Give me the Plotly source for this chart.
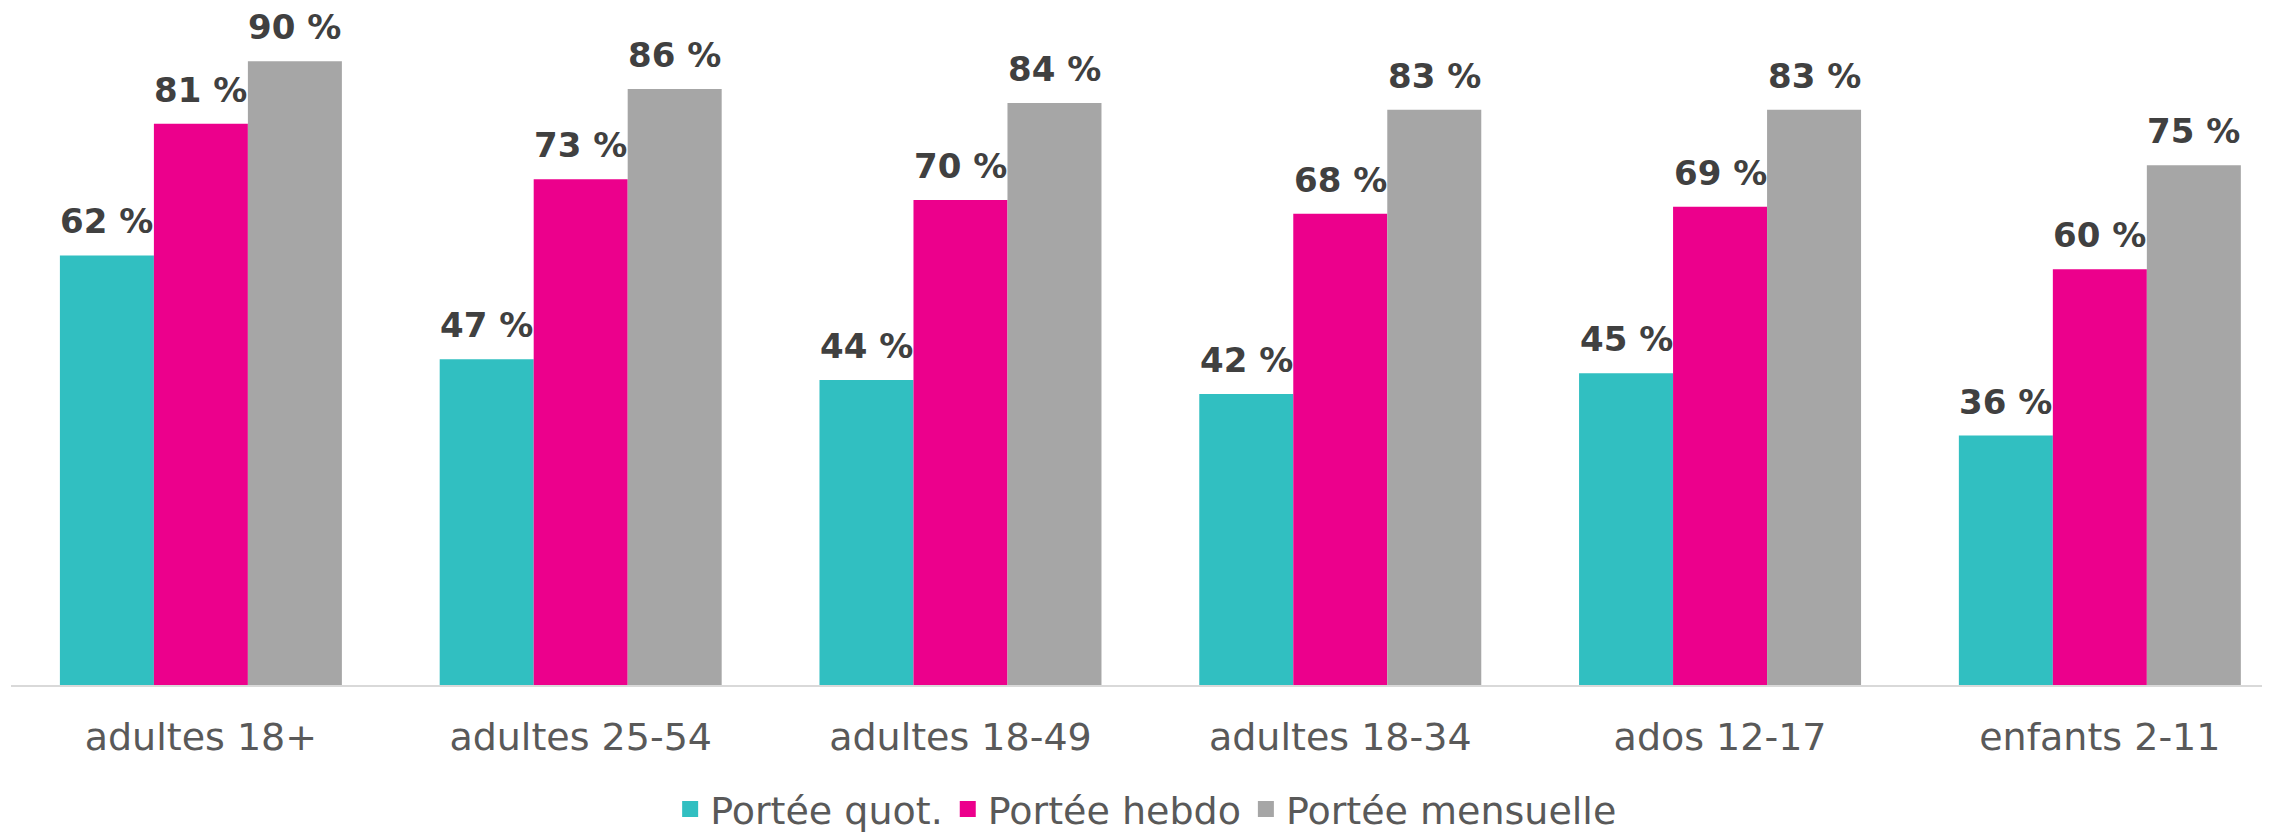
import plotly.graph_objects as go

categories = ["adultes 18+", "adultes 25-54", "adultes 18-49", "adultes 18-34", "ados 12-17", "enfants 2-11"]
series_names = ["Portée quot.", "Portée hebdo", "Portée mensuelle"]
quot = [62, 47, 44, 42, 45, 36]
hebdo = [81, 73, 70, 68, 69, 60]
mensuelle = [90, 86, 84, 83, 83, 75]
colors = ["#31BFC1", "#EC008C", "#A6A6A6"]

series = [quot, hebdo, mensuelle]

fig = go.Figure()
for name, vals, col in zip(series_names, series, colors):
    fig.add_trace(go.Bar(
        x=categories, y=vals, name=name, showlegend=False,
        marker=dict(color=col, line=dict(width=0)),
        hoverinfo="skip",
    ))

# legend entries with larger square swatches
for name, col in zip(series_names, colors):
    fig.add_trace(go.Scatter(
        x=[None], y=[None], name=name, mode="markers",
        marker=dict(symbol="square", size=21, color=col),
        showlegend=True, hoverinfo="skip",
    ))

bar_px = 94
for i, vals in enumerate(series):
    for cat, v in zip(categories, vals):
        fig.add_annotation(
            x=cat, y=v, text=f"{v} %", showarrow=False,
            xref="x", yref="y", xanchor="center", yanchor="bottom",
            xshift=(i - 1) * bar_px, yshift=12,
            font=dict(family="DejaVu Sans", size=34, color="#404040", weight="bold"),
        )

fig.update_layout(
    width=2262, height=826,
    margin=dict(l=3, r=0, t=0, b=149, autoexpand=False),
    paper_bgcolor="white", plot_bgcolor="white",
    barmode="group", bargap=0.2575, bargroupgap=0,
    font=dict(family="DejaVu Sans", color="#595959"),
    showlegend=True,
    legend=dict(
        orientation="h", x=0.5025, xanchor="center",
        yref="container", y=0.03, yanchor="middle",
        font=dict(family="DejaVu Sans", size=38, color="#595959"),
        itemwidth=30, traceorder="normal", itemsizing="trace",
    ),
    xaxis=dict(
        type="category", range=[-0.5, 5.448], automargin=False,
        showline=True, linecolor="#D9D9D9", linewidth=2,
        showgrid=False, ticks="", ticklabelstandoff=17,
        tickfont=dict(family="DejaVu Sans", size=38, color="#595959"),
        zeroline=False,
    ),
    yaxis=dict(
        range=[0, 97.7], showgrid=False, showticklabels=False, automargin=False,
        zeroline=False, showline=False, ticks="",
    ),
)

fig.write_html("out.html")
